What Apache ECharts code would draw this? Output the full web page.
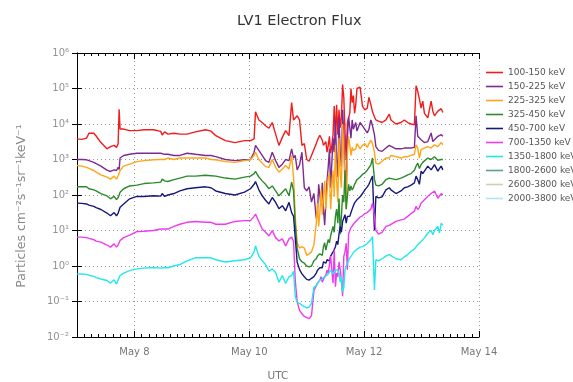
<!DOCTYPE html>
<html>
<head>
<meta charset="utf-8">
<title>LV1 Electron Flux</title>
<script src="https://cdn.jsdelivr.net/npm/echarts@6/dist/echarts.min.js"></script>
<style>
  html, body { margin: 0; padding: 0; background: #fff; }
  #chart { width: 573px; height: 382px; }
</style>
</head>
<body>
<div id="chart"></div>
<script>
// Sample times, hours after May 7 00:00 UTC
const hours = [
  0, 2, 4, 5, 7, 8, 10, 12.5, 14, 15.5, 16.5, 17.2, 17.6, 18, 19.5, 22, 25, 28, 32, 35,
  35.6, 36.6, 38, 40.5, 43, 46, 49.5, 53.7, 56, 58, 62, 66, 70, 72.5, 74, 74.6, 76, 77.4, 78.8, 80.2,
  81.6, 83, 84.4, 85.8, 87.2, 88.6, 89.7,
  90.5, 91.2, 92, 93, 94, 95, 96, 97, 98, 99,
  100, 100.5, 101, 101.5, 102, 102.5, 103, 103.5, 104, 104.5, 105, 105.5, 106, 106.5, 107, 107.5, 108, 108.5,
  109, 109.5, 110, 110.5, 111, 111.5, 112, 112.5, 113, 113.5, 114, 114.5, 115, 115.5, 116, 116.5, 117,
  118.3, 119.3, 120.3, 121.3, 122, 122.8,
  123.5, 124.3, 124.9, 126, 127.5, 129.1, 130.5, 131.2, 133.3, 135.4, 136.8, 138.2, 139.6, 141,
  141.7, 142.4, 143.1, 143.8, 144.5, 145.2, 146.6, 148, 148.7, 149.4, 150.8, 151.5, 152.2, 152.9
];

// Electron flux per energy channel (particles cm^-2 s^-1 sr^-1 keV^-1)
const flux100_150 = [
  3800, 3700, 4000, 5500, 5500, 4600, 3000, 2000, 2300, 2500, 2200, 2800, 26000, 7200, 7200, 6500, 6500, 6900, 6900, 6200,
  4900, 6000, 5200, 5500, 5200, 5200, 6000, 6900, 6300, 4700, 3400, 3000, 3400, 3400, 3800, 22000, 13000, 11000, 8900, 7600,
  11000, 5200, 2500, 4200, 6500, 4700, 40000,
  13000, 14000, 17000, 13000, 2500, 2800, 1000, 890, 1300, 1900,
  2800, 3500, 4200, 4800, 5200, 3500, 2500, 2200, 3200, 1600, 2500, 4500, 1500, 2500, 5000, 32000, 4500, 35000,
  5000, 25000, 7900, 16000, 130000, 56000, 6300, 1000, 11000, 10000, 20000, 100000, 40000, 63000, 20000, 35000, 100000,
  110000, 32000, 25000, 28000, 56000, 35000,
  22000, 16000, 13000, 12000, 11000, 13000, 19000, 13000, 10000, 11000, 13000, 11000, 10000, 9500,
  120000, 83000, 50000, 28000, 44000, 20000, 15000, 44000, 23000, 17000, 23000, 25000, 27000, 21000
];
const flux150_225 = [
  1000, 1000, 980, 930, 830, 760, 650, 500, 460, 510, 490, 600, 520, 1100, 1300, 1400, 1500, 1500, 1500, 1500,
  1600, 1400, 1400, 1300, 1300, 1500, 1400, 1300, 1300, 1200, 1000, 930, 980, 1000, 1600, 2500, 1800, 1300, 930, 830,
  1600, 930, 600, 740, 1000, 930, 2000,
  1100, 1300, 510, 710, 1600, 160, 130, 170, 63, 110,
  22, 32, 200, 100, 50, 220, 40, 14, 63, 250, 630, 2000, 160, 790, 4000, 1600, 13000, 1000,
  320, 16000, 1600, 630, 25000, 5000, 320, 89, 4000, 16000, 7900, 4000, 13000, 7100, 8900, 11000, 6300,
  11000, 8900, 7100, 5600, 7100, 13000,
  8900, 5000, 2300, 1800, 1700, 2100, 2500, 2600, 2000, 2000, 2100, 2100, 2100, 2200,
  17000, 4500, 4000, 3600, 3200, 3000, 3200, 5600, 3200, 3000, 4500, 4800, 5000, 4500
];
const flux225_325 = [
  680, 650, 600, 560, 490, 440, 370, 320, 280, 340, 280, 350, 400, 490, 650, 740, 870, 930, 980, 1000,
  1000, 1000, 1100, 1000, 1100, 1100, 1100, 1100, 1000, 980, 870, 830, 930, 980, 1300, 1600, 1000, 790, 630, 600,
  1000, 600, 440, 540, 680, 540, 1300,
  320, 25, 4.5, 3.2, 3.5, 3.2, 2.0, 2.2, 2.5, 4.0,
  16, 59, 13, 32, 140, 28, 100, 250, 40, 130, 320, 400, 40, 160, 500, 89, 2500, 250,
  63, 4000, 400, 160, 10000, 1600, 160, 40, 1300, 4500, 2500, 1300, 2200, 1800, 2000, 2000, 2800,
  2000, 2500, 2800, 2200, 2800, 3500,
  2800, 1600, 790, 740, 890, 1100, 1100, 1300, 1200, 1100, 1200, 1200, 1300, 1400,
  2600, 2100, 1100, 1900, 2000, 2100, 2300, 2100, 2000, 2600, 2300, 2600, 3000, 2600
];
const flux325_450 = [
  170, 170, 170, 150, 140, 130, 110, 95, 78, 91, 74, 85, 100, 120, 150, 180, 190, 210, 220, 230,
  280, 250, 240, 270, 300, 340, 340, 360, 350, 340, 300, 280, 320, 340, 400, 460, 320, 250, 200, 150,
  180, 130, 95, 120, 150, 95, 230,
  130, 16, 3.2, 1.6, 1.3, 1.2, 1.0, 0.95, 1.0, 1.4,
  1.6, 1.9, 1.8, 2.2, 2.4, 2.0, 3.5, 4.5, 2.8, 4.0, 5.6, 4.5, 7.1, 6.3, 13, 8.9, 25, 40,
  16, 79, 7.9, 25, 100, 63, 500, 40, 91, 200, 130, 180, 140, 160, 200, 220, 270,
  320, 380, 420, 500, 560, 710,
  1100, 280, 190, 180, 200, 270, 300, 280, 270, 300, 330, 370, 400, 500,
  650, 790, 560, 720, 830, 890, 1100, 1000, 890, 1200, 950, 1000, 1000, 1000
];
const flux450_700 = [
  59, 58, 56, 52, 48, 44, 39, 31, 26, 32, 26, 31, 35, 45, 56, 78, 91, 91, 95, 93,
  110, 91, 100, 110, 130, 150, 160, 170, 160, 130, 110, 100, 120, 150, 200, 240, 140, 95, 71, 56,
  85, 62, 41, 50, 36, 62, 32,
  25, 6.3, 1.3, 0.79, 0.60, 0.50, 0.42, 0.40, 0.45, 0.50,
  0.63, 0.76, 0.71, 0.89, 1.0, 0.89, 1.3, 1.4, 1.2, 1.5, 1.6, 1.4, 1.9, 1.8, 2.5, 2.9, 3.5, 5.0,
  4.0, 7.9, 13, 8.9, 18, 20, 28, 16, 25, 28, 25, 32, 40, 50, 60, 66, 74,
  89, 110, 140, 170, 200, 270,
  340, 10, 91, 83, 89, 140, 160, 140, 110, 130, 160, 170, 190, 220,
  340, 270, 200, 470, 400, 420, 650, 510, 450, 720, 470, 560, 650, 510
];
const flux700_1350 = [
  6.5, 6.5, 6.3, 6.0, 5.5, 5.0, 4.7, 3.9, 3.4, 4.2, 3.4, 3.9, 4.5, 5.2, 6.3, 7.4, 9.3, 9.5, 10, 11,
  12, 11, 11, 13, 15, 17, 18, 17, 17, 15, 15, 18, 19, 19, 25, 29, 18, 11, 8.9, 7.1,
  10, 6.3, 5.1, 5.8, 3.7, 5.8, 6.5,
  5.0, 0.40, 0.10, 0.056, 0.045, 0.038, 0.035, 0.033, 0.040, 0.20,
  0.28, 0.33, 0.30, 0.40, 0.50, 0.35, 0.42, 0.38, 0.56, 0.76, 0.63, 1.1, 1.9, 0.79, 0.33, 2.9, 0.26, 0.63,
  0.50, 1.3, 0.78, 0.40, 0.14, 1.9, 2.5, 4.4, 0.78, 7.9, 10, 12, 13, 15, 17, 18, 20,
  24, 26, 30, 32, 35, 40,
  59, 25, 10, 7.9, 8.9, 13, 14, 15, 18, 20, 21, 25, 30, 35,
  48, 39, 45, 59, 66, 74, 91, 110, 100, 130, 81, 74, 110, 100
];
const flux1350_1800 = [
  0.59, 0.60, 0.58, 0.55, 0.51, 0.47, 0.43, 0.39, 0.33, 0.41, 0.31, 0.41, 0.47, 0.54, 0.63, 0.74, 0.83, 0.87, 0.91, 0.87,
  0.91, 0.91, 0.89, 1.0, 1.1, 1.4, 1.7, 1.7, 1.7, 1.5, 1.3, 1.4, 1.5, 1.7, 2.5, 3.7, 1.9, 1.4, 1.1, 0.71,
  0.83, 0.66, 0.35, 0.54, 0.32, 0.50, 0.54,
  0.71, 0.14, 0.095, 0.089, 0.079, 0.072, 0.066, 0.071, 0.089, 0.25,
  0.28, 0.32, 0.35, 0.40, 0.45, 0.42, 0.48, 0.50, 0.52, 0.56, 0.60, 0.66, 0.76, 0.71, 0.60, 0.63, 0.79, 0.71,
  0.76, 0.63, 0.35, 0.50, 0.18, 0.25, 0.79, 0.89, 1.2, 1.4, 1.7, 1.9, 2.1, 2.4, 2.6, 2.8, 2.9,
  3.4, 3.5, 3.8, 4.3, 4.8, 5.5,
  6.8, 0.21, 1.5, 1.4, 1.6, 1.9, 2.1, 2.0, 1.6, 1.5, 1.8, 2.1, 2.6, 3.0,
  3.2, 4.0, 4.5, 4.9, 5.5, 6.2, 8.5, 10, 7.6, 10, 13, 8.5, 16, 14
];
// Channels listed in the legend without samples in this interval
const flux1800_2600 = [];
const flux2600_3800 = [];
const flux2000_3800 = [];

const channelNames = [
  '100-150 keV', '150-225 keV', '225-325 keV', '325-450 keV', '450-700 keV',
  '700-1350 keV', '1350-1800 keV', '1800-2600 keV', '2600-3800 keV', '2000-3800 keV'
];
const channelFlux = [
  flux100_150, flux150_225, flux225_325, flux325_450, flux450_700,
  flux700_1350, flux1350_1800, flux1800_2600, flux2600_3800, flux2000_3800
];
const channelColors = [
  '#f21c1c', '#7d2a92', '#ffa516', '#2b8a2b', '#18187c',
  '#f03af0', '#22e8ec', '#5f9e9a', '#c4d4b4', '#aee6ee'
];

// Axis ticks: day labels every two days, minor ticks every 3 hours
const dayTicks = [24, 72, 120, 168];
const dayLabels = ['May 8', 'May 10', 'May 12', 'May 14'];
const supDigits = { '-': '\u207B', '0': '\u2070', '1': '\u00B9', '2': '\u00B2', '3': '\u00B3',
                    '4': '\u2074', '5': '\u2075', '6': '\u2076', '7': '\u2077', '8': '\u2078', '9': '\u2079' };

const FONT = 'DejaVu Sans';
const GRID_LINE = { type: [1, 3], color: '#9a9a9a', width: 1 };

function powerLabel(v) {
  const e = String(Math.round(Math.log10(v)));
  return '10' + e.split('').map(c => supDigits[c]).join('');
}

const series = channelNames.map((name, i) => ({
  name,
  type: 'line',
  xAxisIndex: 0,
  yAxisIndex: 0,
  symbol: 'none',
  showSymbol: false,
  lineStyle: { width: 1.4, color: channelColors[i] },
  itemStyle: { color: channelColors[i] },
  emphasis: { disabled: true },
  data: channelFlux[i].map((v, k) => [hours[k], v])
}));

const minorX = (pos) => ({
  type: 'value', min: 0, max: 168, interval: 3, position: pos,
  axisLine: { show: true, lineStyle: { color: '#000', width: 1 } },
  axisTick: { show: true, inside: true, length: 3, lineStyle: { color: '#000' } },
  axisLabel: { show: false },
  splitLine: { show: false }
});
const majorX = (pos, withLabels) => ({
  type: 'value', min: 0, max: 168, position: pos,
  axisLine: { show: false },
  axisTick: { show: true, inside: true, length: 6, customValues: dayTicks, lineStyle: { color: '#000' } },
  axisLabel: withLabels ? {
    show: true, customValues: dayTicks, margin: 10,
    formatter: v => dayLabels[dayTicks.indexOf(v)] || '',
    color: '#777', fontFamily: FONT, fontSize: 10
  } : { show: false },
  splitLine: { show: withLabels, lineStyle: GRID_LINE },
  name: withLabels ? 'UTC' : '',
  nameLocation: 'middle', nameGap: 34,
  nameTextStyle: { color: '#777', fontFamily: FONT, fontSize: 10.5 }
});

const chart = echarts.init(document.getElementById('chart'), null, { renderer: 'canvas' });
chart.setOption({
  animation: false,
  backgroundColor: '#fff',
  title: {
    text: 'LV1 Electron Flux',
    left: 232, top: 9,
    textStyle: { fontFamily: FONT, fontSize: 14.5, fontWeight: 'normal', color: '#333' }
  },
  legend: {
    orient: 'vertical',
    left: 481, top: 62,
    icon: 'rect',
    itemWidth: 17, itemHeight: 1.6, itemGap: 3,
    textStyle: { fontFamily: FONT, fontSize: 9, color: '#555', lineHeight: 11 },
    data: channelNames
  },
  grid: { left: 77, right: 94, top: 53, bottom: 45, containLabel: false, outerBoundsMode: 'none' },
  xAxis: [minorX('bottom'), majorX('bottom', true), minorX('top'), majorX('top', false)],
  yAxis: [
    {
      type: 'log', logBase: 10, min: 0.01, max: 1e6, position: 'left',
      axisLine: { show: true, lineStyle: { color: '#000', width: 1 } },
      axisTick: { show: true, inside: true, length: 5, lineStyle: { color: '#000' } },
      axisLabel: { formatter: powerLabel, color: '#939393', fontFamily: FONT, fontSize: 10, margin: 8 },
      splitLine: { show: true, lineStyle: GRID_LINE },
      name: 'Particles cm\u207B\u00B2s\u207B\u00B9sr\u207B\u00B9keV\u207B\u00B9',
      nameLocation: 'middle', nameGap: 49,
      nameTextStyle: { color: '#8a8a8a', fontFamily: FONT, fontSize: 12.5, padding: [0, 22, 0, 0] }
    },
    {
      type: 'log', logBase: 10, min: 0.01, max: 1e6, position: 'right',
      axisLine: { show: true, lineStyle: { color: '#000', width: 1 } },
      axisTick: { show: true, inside: true, length: 5, lineStyle: { color: '#000' } },
      axisLabel: { show: false },
      splitLine: { show: false }
    }
  ],
  series
});
</script>
</body>
</html>
